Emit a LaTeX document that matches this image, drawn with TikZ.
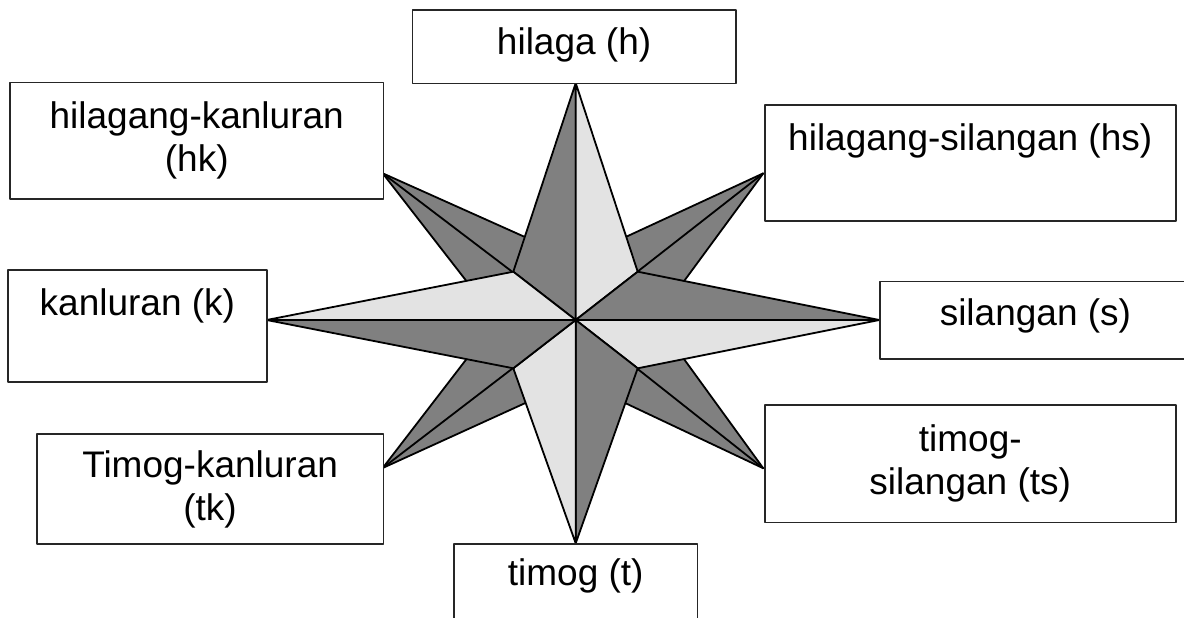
\documentclass[tikz,border=0pt]{standalone}
\usepackage{fontspec}
\setmainfont{Liberation Sans}
\usepackage{tikz}
\definecolor{armdark}{HTML}{808080}
\definecolor{armlight}{HTML}{E3E3E3}

\begin{document}
\begin{tikzpicture}[x=1pt,y=-1pt,line join=round,
  dark part/.style={fill=armdark,draw=black,line width=1.8pt},
  light part/.style={fill=armlight,draw=black,line width=1.8pt},
  dir box/.style={rectangle,draw=black!85,fill=white,line width=1.5pt,
    inner sep=0pt,anchor=north west,font=\fontsize{37}{43}\selectfont}]

\path[use as bounding box] (0,0) rectangle (1184,618);
\clip (0,0) rectangle (1184,618);

\coordinate (O) at (575.7,320);
\coordinate (N) at (575.7,83);
\coordinate (E) at (879.3,320);
\coordinate (S) at (575.7,543.3);
\coordinate (W) at (266.7,320);
\coordinate (iNW) at (513.3,271.7);
\coordinate (iNE) at (637.7,271.7);
\coordinate (iSE) at (637.7,368.3);
\coordinate (iSW) at (513.3,368.3);

\coordinate (NW) at (382.7,173.3);
\coordinate (NW1) at (551.7,249);
\coordinate (NW2) at (482.7,302);
\coordinate (NE) at (763.3,173.3);
\coordinate (NE1) at (599.7,249);
\coordinate (NE2) at (668.7,302);
\coordinate (SW) at (382.7,468);
\coordinate (SW1) at (551.7,391);
\coordinate (SW2) at (482.7,338);
\coordinate (SE) at (763.3,468.3);
\coordinate (SE1) at (599.7,391);
\coordinate (SE2) at (668.7,338);

\foreach \d in {NW,NE,SW,SE}{
  \filldraw[dark part] (\d) -- (\d1) -- (O) -- (\d2) -- cycle;
  \draw[line width=1.8pt] (\d) -- (O);
}

\foreach \tip/\a/\b in {N/iNW/iNE,E/iNE/iSE,S/iSE/iSW,W/iSW/iNW}{
  \filldraw[dark part] (\tip) -- (\a) -- (O) -- cycle;
  \filldraw[light part] (\tip) -- (\b) -- (O) -- cycle;
}

\node[dir box,minimum width=323.3pt,text height=44pt,text depth=29.4pt] (h) at (411.7,9.3) {hilaga (h)};
\node[dir box,align=center,minimum width=373.4pt,minimum height=116.6pt] (hk) at (9.3,81.7) {hilagang-kanluran\\(hk)};
\node[dir box,minimum width=411pt,text height=45.3pt,text depth=70.7pt] (hs) at (764,104) {hilagang-silangan (hs)};
\node[dir box,minimum width=258.7pt,text height=45.7pt,text depth=66pt] (k) at (7.3,269.3) {kanluran (k)};
\node[dir box,minimum width=310.7pt,text height=44.3pt,text depth=33.3pt] (s) at (879.3,280.7) {silangan (s)};
\node[dir box,align=center,minimum width=346.7pt,minimum height=110pt] (tk) at (36,433.3) {Timog-kanluran\\(tk)};
\node[dir box,align=center,minimum width=411pt,minimum height=117.4pt] (ts) at (764,404.3) {timog-\\silangan (ts)};
\node[dir box,minimum width=243.4pt,text height=41.7pt,text depth=55pt] (t) at (453.3,543.3) {timog (t)};

\end{tikzpicture}
\end{document}
